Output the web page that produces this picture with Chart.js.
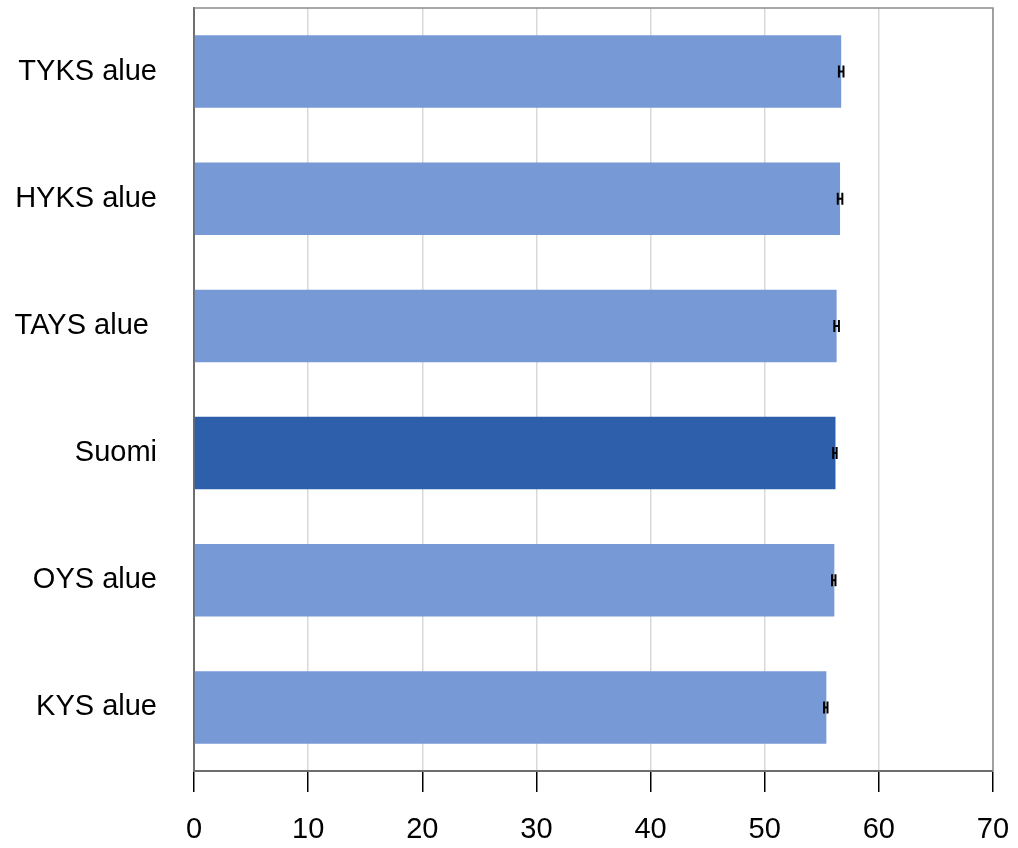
<!DOCTYPE html>
<html>
<head>
<meta charset="utf-8">
<script src="https://cdn.jsdelivr.net/npm/chart.js@4/dist/chart.umd.min.js"></script>
<style>
  html, body { margin: 0; padding: 0; background: #fff; }
  #wrap { width: 1018px; height: 848px; }
</style>
</head>
<body>
<div id="wrap"><canvas id="chart"></canvas></div>
<script>
const regions = ['TYKS alue', 'HYKS alue', 'TAYS alue ', 'Suomi', 'OYS alue', 'KYS alue'];
const values = [56.7, 56.6, 56.3, 56.2, 56.1, 55.4];
const errLow = [56.5, 56.4, 56.1, 56.0, 55.9, 55.2];
const errHigh = [56.9, 56.8, 56.5, 56.3, 56.2, 55.5];
const xTicks = [0, 10, 20, 30, 40, 50, 60, 70];

const light = '#7799d5';
const dark = '#2e5fab';

const frame = {
    id: 'frame',
    beforeDatasetsDraw(chart) {
        const { ctx, chartArea: a } = chart;
        ctx.save();
        ctx.strokeStyle = '#8c8c8c';
        ctx.lineWidth = 1.5;
        ctx.beginPath();
        ctx.moveTo(a.left, a.top);
        ctx.lineTo(a.right, a.top);
        ctx.lineTo(a.right, a.bottom);
        ctx.stroke();
        ctx.restore();
    },
};

const errorBars = {
    id: 'errorBars',
    afterDatasetsDraw(chart) {
        const { ctx, scales } = chart;
        ctx.save();
        ctx.strokeStyle = '#000';
        ctx.lineWidth = 2;
        regions.forEach((r, i) => {
            const y = scales.y.getPixelForValue(i);
            const x1 = scales.x.getPixelForValue(errLow[i]);
            const x2 = scales.x.getPixelForValue(errHigh[i]);
            ctx.beginPath();
            ctx.moveTo(x1, y);
            ctx.lineTo(x2, y);
            ctx.moveTo(x1, y - 6);
            ctx.lineTo(x1, y + 6);
            ctx.moveTo(x2, y - 6);
            ctx.lineTo(x2, y + 6);
            ctx.stroke();
        });
        ctx.restore();
    },
};

new Chart(document.getElementById('chart'), {
    type: 'bar',
    data: {
        labels: regions,
        datasets: [{
            data: values,
            backgroundColor: regions.map((r) => (r === 'Suomi' ? dark : light)),
            borderWidth: 0,
            categoryPercentage: 1,
            barPercentage: 0.57,
        }],
    },
    options: {
        indexAxis: 'y',
        responsive: true,
        maintainAspectRatio: false,
        animation: false,
        layout: { padding: { top: 8, right: 25, left: 0, bottom: 0 } },
        plugins: {
            legend: { display: false },
            tooltip: { enabled: false },
        },
        scales: {
            x: {
                min: 0,
                max: 70,
                afterBuildTicks: (scale) => {
                    scale.ticks = xTicks.map((v) => ({ value: v }));
                },
                afterFit: (scale) => {
                    scale.height = 77;
                    scale.paddingLeft = 0;
                    scale.paddingRight = 0;
                },
                grid: {
                    color: '#d9d9d9',
                    lineWidth: 1.5,
                    drawTicks: true,
                    tickLength: 21,
                    tickColor: '#000',
                },
                border: { display: true, color: '#6e6e6e', width: 2 },
                ticks: {
                    color: '#000',
                    font: { family: 'Liberation Sans', size: 29 },
                    padding: 21,
                    maxRotation: 0,
                },
            },
            y: {
                afterFit: (scale) => {
                    scale.width = 194;
                    scale.paddingTop = 0;
                    scale.paddingBottom = 0;
                },
                grid: { display: false, drawTicks: false },
                border: { display: true, color: '#6e6e6e', width: 2 },
                ticks: {
                    color: '#000',
                    font: { family: 'Liberation Sans', size: 29 },
                    padding: 37,
                },
            },
        },
    },
    plugins: [frame, errorBars],
});
</script>
</body>
</html>
